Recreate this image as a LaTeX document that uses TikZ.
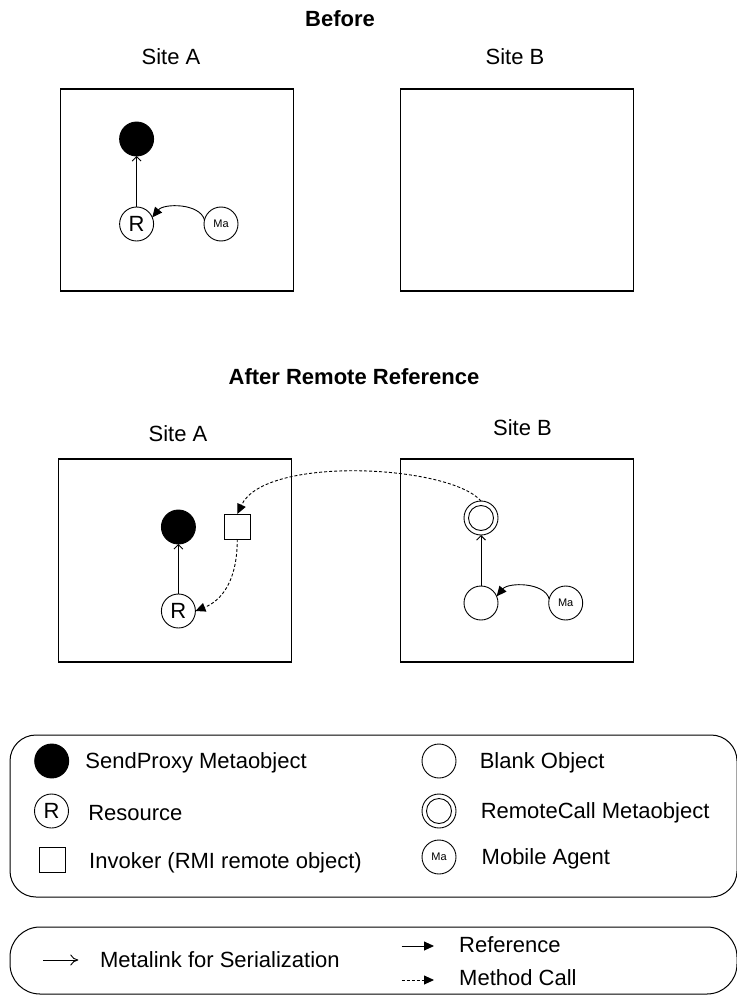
\documentclass[tikz,border=0pt]{standalone}
\usepackage{fontspec}
\setmainfont{Liberation Sans}
\usetikzlibrary{arrows.meta}

\begin{document}
\begin{tikzpicture}[x=1pt,y=-1pt,
  every node/.style={inner sep=0pt, outer sep=0pt},
  lbl/.style={font=\fontsize{22}{26}\selectfont},
  ttl/.style={font=\fontsize{22}{26}\selectfont\bfseries},
  sitebox/.style={draw, line width=1.1pt, minimum width=233pt, minimum height=202pt},
  obj/.style={circle, draw, line width=0.9pt, minimum size=34pt, font=\fontsize{22}{26}\selectfont},
  proxy/.style={obj, fill=black},
  agent/.style={obj, font=\fontsize{11}{13}\selectfont},
  invoker/.style={draw, line width=0.9pt, minimum width=26pt, minimum height=25pt},
  legendbox/.style={draw, line width=1pt},
  metalink/.style={line width=0.9pt, -{Straight Barb[length=4.5pt,width=9pt]}},
  refarrow/.style={line width=0.9pt, -{Triangle[length=10pt,width=9pt]}},
  callarrow/.style={refarrow, dash pattern=on 3pt off 2pt},
  innerring/.style={line width=0.9pt},
]
\useasboundingbox (0,0) rectangle (736,995);

% ---------- Before ----------
\node[ttl, anchor=base] (before) at (340,27) {Before};
\node[lbl, anchor=base] (siteA1) at (171,65) {Site A};
\node[lbl, anchor=base] (siteB1) at (515,65) {Site B};
\node[sitebox] (boxA1) at (177.3,190) {};
\node[sitebox] (boxB1) at (517,190) {};

\node[proxy] (sp1) at (136.6,139) {};
\node[obj] (res1) at (136.6,224) {R};
\node[agent] (ma1) at (221,224) {Ma};
\draw[metalink] (res1) -- (sp1);
\draw[refarrow] (ma1.166) .. controls +(-5,-17) and +(11.5,-14) .. (res1.23);

% ---------- After Remote Reference ----------
\node[ttl, anchor=base] (after) at (354,384) {After Remote Reference};
\node[lbl, anchor=base] (siteA2) at (178,441) {Site A};
\node[lbl, anchor=base] (siteB2) at (522.5,435) {Site B};
\node[sitebox, minimum height=203pt] (boxA2) at (175.1,560.5) {};
\node[sitebox, minimum height=203pt] (boxB2) at (517,560.5) {};

\node[proxy] (sp2) at (178.4,527) {};
\node[invoker] (inv) at (237.3,526.5) {};
\node[obj] (res2) at (178.4,611) {R};
\node[obj] (rc) at (481,518) {};
\draw[innerring] (rc.center) circle[radius=12.5pt];
\node[obj] (blank) at (481,603) {};
\node[agent] (ma2) at (565.7,603) {Ma};

\draw[metalink] (res2) -- (sp2);
\draw[metalink] (blank) -- (rc);
\draw[refarrow] (ma2.166) .. controls +(-5,-17) and +(11.5,-14) .. (blank.23);
\draw[callarrow] (inv.south) .. controls +(0,50) and +(20,-8) .. (res2.east);
\draw[callarrow] (rc.north) .. controls (450,465) and (265,455) .. (inv.north);

% ---------- Legend: objects ----------
\node[legendbox, rounded corners=26pt, minimum width=727pt, minimum height=162pt] (leg1) at (373.5,816) {};

\node[proxy] (lsp) at (51.7,761) {};
\node[lbl, anchor=base west] (lsptext) at (85.4,768.3) {SendProxy Metaobject};
\node[obj] (lres) at (51.5,811) {R};
\node[lbl, anchor=base west] (lrestext) at (88.3,820) {Resource};
\node[invoker] (linv) at (52.3,859.7) {};
\node[lbl, anchor=base west] (linvtext) at (89.2,868.5) {Invoker (RMI remote object)};

\node[obj] (lblank) at (439,761) {};
\node[lbl, anchor=base west] (lblanktext) at (479.8,768.5) {Blank Object};
\node[obj] (lrc) at (439,811) {};
\draw[innerring] (lrc.center) circle[radius=12.5pt];
\node[lbl, anchor=base west] (lrctext) at (480.8,818.5) {RemoteCall Metaobject};
\node[agent] (lma) at (439,857) {Ma};
\node[lbl, anchor=base west] (lmatext) at (481.7,864) {Mobile Agent};

% ---------- Legend: links ----------
\node[legendbox, rounded corners=30pt, minimum width=727pt, minimum height=67pt] (leg2) at (373.5,960.5) {};

\coordinate (mlA) at (43.3,960);
\coordinate (mlB) at (78.3,960);
\draw[line width=0.9pt, -{Computer Modern Rightarrow[length=8pt,width=11pt]}] (mlA) -- (mlB);
\node[lbl, anchor=base west] (mltext) at (100,967) {Metalink for Serialization};

\coordinate (refA) at (401.7,946);
\coordinate (refB) at (434,946);
\draw[refarrow] (refA) -- (refB);
\node[lbl, anchor=base west] (reftext) at (459.2,952.5) {Reference};

\coordinate (callA) at (401.7,980);
\coordinate (callB) at (434,980);
\draw[callarrow] (callA) -- (callB);
\node[lbl, anchor=base west] (calltext) at (459.2,985.8) {Method Call};
\end{tikzpicture}
\end{document}
